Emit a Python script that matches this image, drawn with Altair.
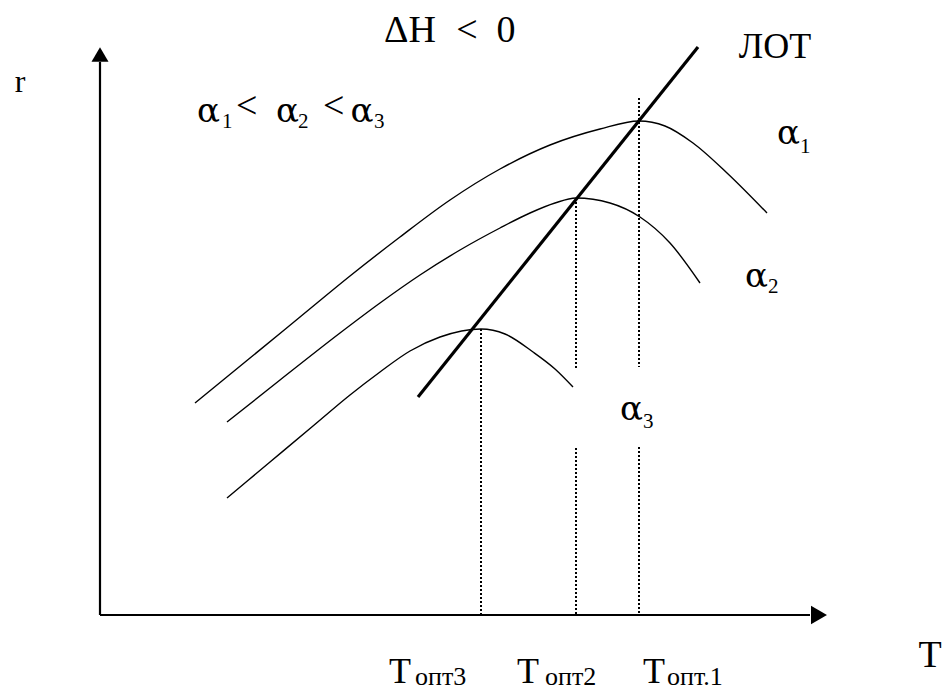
import altair as alt
import pandas as pd

# ---- data (T, r in arbitrary units) ----
a1_T = [9.5, 15.0, 20.0, 25.0, 30.0, 35.0, 40.0, 45.0, 50.0, 53.9, 56.5, 59.3, 62.7, 66.7]
a1_r = [21.2, 25.7, 29.8, 33.9, 37.8, 41.5, 44.6, 47.0, 48.6, 49.4, 48.9, 47.2, 44.2, 40.2]
a2_T = [12.7, 18.0, 24.0, 28.0, 32.0, 36.0, 40.0, 43.0, 45.5, 47.6, 51.0, 54.0, 57.0, 60.0]
a2_r = [19.3, 23.5, 28.2, 31.2, 34.0, 36.5, 38.7, 40.2, 41.2, 41.7, 41.2, 39.8, 37.2, 33.2]
a3_T = [12.7, 17.0, 21.3, 25.0, 28.0, 31.0, 34.0, 38.1, 40.5, 43.3, 45.5, 47.3]
a3_r = [11.7, 15.3, 18.9, 22.0, 24.3, 26.4, 27.8, 28.6, 28.1, 26.3, 24.6, 22.8]
lot_T = [31.8, 59.8]
lot_r = [21.8, 56.8]

# optimum temperatures and dotted drop lines (segments)
drop_T = [38.1, 47.6, 47.6, 53.9, 53.9]
drop_r1 = [28.6, 41.7, 16.7, 51.7, 16.8]
drop_r2 = [0.0, 24.7, 0.0, 24.8, 0.0]

# axes extent
T_axis_end = 71.0
r_axis_end = 55.3

# labels
title_text = ["ΔH", "<", "0"]
title_T = [31.0, 36.7, 40.6]
title_r = [57.3, 57.3, 57.3]

tick_T_text = ["T", "T", "T"]
tick_T_pos = [30.0, 42.8, 55.4]
tick_T_r = [-6.8, -6.8, -6.8]

sub_text = ["опт3", "опт2", "опт.1"]
sub_T = [31.5, 44.5, 56.7]
sub_r = [-7.0, -7.0, -7.0]

alpha_text = ["α", "α", "α", "α", "α", "α"]
alpha_T = [10.85, 18.75, 26.2, 68.85, 65.65, 53.15]
alpha_r = [49.3, 49.3, 49.3, 47.1, 32.8, 19.5]

lt_text = ["<", "<"]
lt_T = [13.6, 22.3]
lt_r = [49.7, 49.7]

idx_text = ["1", "2", "3", "1", "2", "3"]
idx_T = [12.2, 19.8, 27.4, 70.0, 66.8, 54.3]
idx_r = [48.7, 48.7, 48.7, 46.2, 32.2, 18.7]

# ---- build tables ----
curves = pd.concat([
    pd.DataFrame({"T": a1_T, "r": a1_r, "curve": "a1"}),
    pd.DataFrame({"T": a2_T, "r": a2_r, "curve": "a2"}),
    pd.DataFrame({"T": a3_T, "r": a3_r, "curve": "a3"}),
])
lot = pd.DataFrame({"T": lot_T, "r": lot_r})
drops = pd.DataFrame({"T": drop_T, "r": drop_r1, "r2": drop_r2})
axes = pd.DataFrame({"T": [0, 0], "T2": [0, T_axis_end], "r": [0, 0], "r2": [r_axis_end, 0]})
arrow_up = pd.DataFrame({"T": [0], "r": [r_axis_end + 0.75]})
arrow_right = pd.DataFrame({"T": [T_axis_end + 0.9], "r": [0]})
titles = pd.DataFrame({"T": title_T, "r": title_r, "text": title_text})
ticksT = pd.DataFrame({"T": tick_T_pos, "r": tick_T_r, "text": tick_T_text})
subs = pd.DataFrame({"T": sub_T, "r": sub_r, "text": sub_text})
alphas = pd.DataFrame({"T": alpha_T, "r": alpha_r, "text": alpha_text})
lts = pd.DataFrame({"T": lt_T, "r": lt_r, "text": lt_text})
idxs = pd.DataFrame({"T": idx_T, "r": idx_r, "text": idx_text})
lot_lab = pd.DataFrame({"T": [67.5], "r": [55.7], "text": ["ЛОТ"]})
r_lab = pd.DataFrame({"T": [-8.0], "r": [52.3], "text": ["r"]})
T_lab = pd.DataFrame({"T": [83.0], "r": [-5.2], "text": ["T"]})

xs = alt.Scale(domain=[-9.2, 84.4], nice=False, zero=False)
ys = alt.Scale(domain=[-7.6, 60.7], nice=False, zero=False)
X = alt.X("T:Q", scale=xs, axis=None)
Y = alt.Y("r:Q", scale=ys, axis=None)
SERIF = "Liberation Serif"
GREEK = "DejaVu Serif"


def txt(df, font, size, align="center"):
    return alt.Chart(df).mark_text(
        align=align, baseline="alphabetic", font=font, fontSize=size, color="black"
    ).encode(x=X, y=Y, text="text:N")


curve_layer = alt.Chart(curves).mark_line(
    color="black", strokeWidth=1.4, interpolate="monotone"
).encode(x=X, y=Y, detail="curve:N")

lot_layer = alt.Chart(lot).mark_line(color="black", strokeWidth=3.2).encode(x=X, y=Y)

drop_layer = alt.Chart(drops).mark_rule(
    color="black", strokeWidth=2, strokeDash=[2, 2]
).encode(x=X, y=Y, y2="r2:Q")

axis_layer = alt.Chart(axes).mark_rule(color="black", strokeWidth=2.2).encode(
    x=X, x2="T2:Q", y=Y, y2="r2:Q"
)

up_layer = alt.Chart(arrow_up).mark_point(
    shape="triangle-up", filled=True, size=289, color="black", opacity=1
).encode(x=X, y=Y)
right_layer = alt.Chart(arrow_right).mark_point(
    shape="triangle-right", filled=True, size=340, color="black", opacity=1
).encode(x=X, y=Y)

chart = alt.layer(
    curve_layer, lot_layer, drop_layer, axis_layer, up_layer, right_layer,
    txt(titles, SERIF, 38),
    txt(lot_lab, SERIF, 36),
    txt(r_lab, SERIF, 32),
    txt(T_lab, SERIF, 38),
    txt(ticksT, SERIF, 36),
    txt(subs, SERIF, 26, align="left"),
    txt(alphas, GREEK, 34),
    txt(lts, SERIF, 38, align="left"),
    txt(idxs, SERIF, 21, align="left"),
).properties(
    width=936, height=683, padding=0,
    autosize=alt.AutoSizeParams(type="none"),
).configure_view(stroke=None)

chart.save("out.html", embed_options={"renderer": "svg", "actions": False})
